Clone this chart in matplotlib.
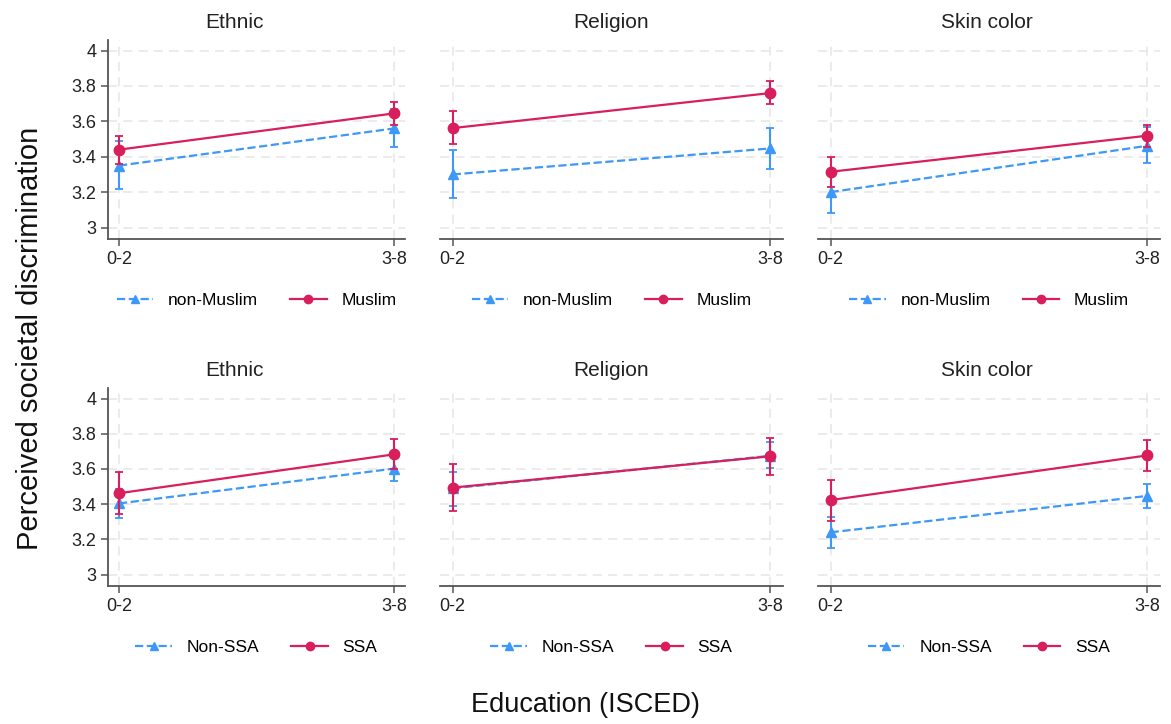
import matplotlib
matplotlib.use("Agg")
import matplotlib.pyplot as plt
from matplotlib.lines import Line2D
import numpy as np

plt.rcParams['font.family'] = ['Liberation Sans', 'DejaVu Sans']

# data
edu = ["0-2", "3-8"]
panels = ["Ethnic", "Religion", "Skin color"]

# top row: non-Muslim / Muslim
nonmus_mean = [[3.35, 3.56], [3.30, 3.447], [3.20, 3.462]]
nonmus_lo = [[3.215, 3.455], [3.164, 3.33], [3.081, 3.362]]
nonmus_hi = [[3.49, 3.67], [3.44, 3.565], [3.32, 3.566]]
mus_mean = [[3.44, 3.645], [3.562, 3.76], [3.315, 3.519]]
mus_lo = [[3.36, 3.58], [3.472, 3.70], [3.23, 3.457]]
mus_hi = [[3.52, 3.71], [3.657, 3.83], [3.396, 3.58]]

# bottom row: Non-SSA / SSA
nonssa_mean = [[3.404, 3.602], [3.49, 3.675], [3.24, 3.447]]
nonssa_lo = [[3.319, 3.532], [3.39, 3.607], [3.151, 3.379]]
nonssa_hi = [[3.485, 3.67], [3.585, 3.753], [3.325, 3.513]]
ssa_mean = [[3.462, 3.683], [3.494, 3.672], [3.423, 3.677]]
ssa_lo = [[3.343, 3.598], [3.362, 3.566], [3.302, 3.587]]
ssa_hi = [[3.583, 3.772], [3.63, 3.775], [3.536, 3.764]]

yticks = [3, 3.2, 3.4, 3.6, 3.8, 4]
ytick_labels = ["3", "3.2", "3.4", "3.6", "3.8", "4"]

blue = "#3d98f7"
red = "#d81e5b"
spine_col = "#555555"

W, H = 1171, 724
fig = plt.figure(figsize=(W / 100, H / 100), dpi=100)

# axes boxes in pixels: (left, right)
cols = [(108, 405), (440, 783), (818, 1160)]
rows = [(40, 239), (388, 586)]
title_x = [234, 611, 987]

x = np.arange(2)

def draw(ax, m1, lo1, hi1, m2, lo2, hi2, lab1, lab2, first):
    m1, lo1, hi1 = np.array(m1), np.array(lo1), np.array(hi1)
    m2, lo2, hi2 = np.array(m2), np.array(lo2), np.array(hi2)
    ax.errorbar(x, m1, yerr=[m1 - lo1, hi1 - m1], color=blue, ls="--", lw=1.6,
                marker="^", ms=7, capsize=3, elinewidth=1.5, capthick=1.3, zorder=3)
    ax.errorbar(x, m2, yerr=[m2 - lo2, hi2 - m2], color=red, ls="-", lw=1.6,
                marker="o", ms=7.5, capsize=3, elinewidth=1.5, capthick=1.3, zorder=4)
    ax.set_xlim(-0.04, 1.04)
    ax.set_ylim(2.935, 4.06)
    ax.set_xticks(x)
    ax.set_xticklabels(edu, fontsize=13)
    ax.set_yticks(yticks)
    ax.grid(True, color="#e6e6e6", ls=(0, (6, 4)), lw=1.1)
    ax.set_axisbelow(True)
    for s in ["top", "right"]:
        ax.spines[s].set_visible(False)
    ax.spines["bottom"].set_color(spine_col)
    ax.spines["bottom"].set_linewidth(1.3)
    ax.tick_params(axis="x", colors=spine_col, length=5, width=1.1, labelcolor="#222222")
    if first:
        ax.set_yticklabels(ytick_labels, fontsize=13)
        ax.spines["left"].set_color(spine_col)
        ax.spines["left"].set_linewidth(1.3)
        ax.tick_params(axis="y", colors=spine_col, length=5, width=1.1, labelcolor="#222222")
    else:
        ax.spines["left"].set_visible(False)
        ax.tick_params(axis="y", length=0, labelleft=False)
    handles = [Line2D([], [], color=blue, ls="--", lw=1.6, marker="^", ms=6),
               Line2D([], [], color=red, ls="-", lw=1.6, marker="o", ms=6)]
    ax.legend(handles, [lab1, lab2], ncol=2, frameon=False, loc="center",
              bbox_to_anchor=(0.5, -0.31), fontsize=12.5, handlelength=2.1,
              columnspacing=1.85, handletextpad=0.85)

for r, (top, bot) in enumerate(rows):
    for c, (l, rr) in enumerate(cols):
        ax = fig.add_axes([l / W, 1 - bot / H, (rr - l) / W, (bot - top) / H])
        if r == 0:
            draw(ax, nonmus_mean[c], nonmus_lo[c], nonmus_hi[c],
                 mus_mean[c], mus_lo[c], mus_hi[c], "non-Muslim", "Muslim", c == 0)
        else:
            draw(ax, nonssa_mean[c], nonssa_lo[c], nonssa_hi[c],
                 ssa_mean[c], ssa_lo[c], ssa_hi[c], "Non-SSA", "SSA", c == 0)
        ax.set_title(panels[c], fontsize=15, color="#222222", pad=9,
                     x=(title_x[c] - l) / (rr - l))

fig.text(30 / W, 1 - 338 / H, "Perceived societal discrimination", rotation=90,
         ha="center", va="center", fontsize=21, color="#111111")
fig.text(585 / W, 1 - 705 / H, "Education (ISCED)", ha="center", va="center",
         fontsize=19.5, color="#111111")

fig.savefig("out.png", dpi=100, facecolor="white")
